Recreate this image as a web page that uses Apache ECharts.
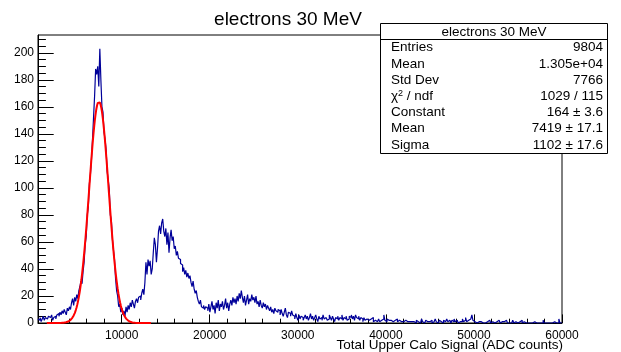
<!DOCTYPE html>
<html>
<head>
<meta charset="utf-8">
<script src="https://cdn.jsdelivr.net/npm/echarts@6/dist/echarts.min.js"></script>
<style>
  html, body { margin: 0; padding: 0; background: #fff; }
  #chart { width: 621px; height: 352px; }
</style>
</head>
<body>
<div id="chart"></div>
<script>
// Histogram: upper calorimeter signal for 30 MeV electrons, 500 bins
const histTitle = 'electrons 30 MeV';
const xAxisTitle = 'Total Upper Calo Signal (ADC counts)';
const xMin = 500;
const xMax = 60000;

const binCounts = [
  3,2,4,1,3,5,2,4,3,2,5,4,3,6,2,4,5,3,6,7,5,8,6,9,7,
  10,8,6,11,9,12,10,15,18,13,19,16,21,18,24,27,31,29,38,45,58,64,80,86,103,
  110,121,136,152,168,188,184,190,175,203,180,160,156,141,136,128,112,106,99,80,76,62,54,47,33,
  24,20,12,14,8,11,6,9,5,12,8,13,10,15,12,17,14,11,16,18,15,19,20,17,22,
  25,21,30,45,36,47,42,46,36,40,52,63,58,45,55,68,72,66,74,77,68,64,70,58,67,
  52,63,69,61,64,55,57,50,53,48,47,44,43,38,41,36,39,34,37,33,35,30,27,31,25,
  22,24,19,16,14,17,12,11,13,10,12,11,9,14,8,12,16,10,13,7,15,11,17,9,14,
  12,16,10,13,18,11,15,9,14,17,13,19,15,18,14,20,16,22,18,24,19,15,20,13,17,
  21,14,18,16,21,17,19,15,20,14,16,12,17,13,11,15,12,14,10,13,11,9,12,8,10,
  7,11,9,8,10,9,6,10,7,5,8,11,6,4,8,7,5,9,6,5,3,7,4,2,6,
  3,5,4,2,4,6,3,5,2,4,7,3,5,2,4,6,3,1,5,3,4,2,6,3,4,
  5,2,3,6,4,2,5,3,1,4,3,5,2,4,3,6,2,4,3,5,2,3,5,4,6,
  3,5,2,6,4,3,5,2,4,3,1,4,2,3,4,2,1,3,2,4,1,2,3,1,2,
  3,1,2,1,3,6,2,1,3,2,1,2,3,1,2,2,1,3,1,2,1,1,2,1,1,
  2,1,1,0,1,2,1,0,1,1,0,2,1,1,0,1,3,1,0,1,2,1,0,1,1,
  2,0,1,1,3,1,0,1,2,1,1,0,2,1,1,3,1,2,1,0,2,1,3,1,2,
  1,0,1,2,1,3,1,2,4,1,2,1,3,2,6,2,1,1,0,1,1,0,1,2,0,
  1,0,1,1,0,2,1,0,1,0,0,1,1,0,2,1,0,1,0,1,0,2,1,0,0,
  1,0,1,2,0,1,0,0,1,1,0,2,0,1,0,0,1,0,1,0,0,0,0,1,0,
  0,0,0,0,0,0,0,2,0,0,0,0,0,0,0,0,0,1,0,0,0,0,3,0,0
];

// Gaussian fit result
const fitConstant = 164;
const fitMean = 7419;
const fitSigma = 1102;
const fitRange = [1500, 13400];

// Axis ticks
const xTickLabels = [10000, 20000, 30000, 40000, 50000, 60000];
const yTickLabels = [0, 20, 40, 60, 80, 100, 120, 140, 160, 180, 200];
const xMinorStep = 2000;
const yMinorStep = 5;

// Statistics box
const statsTitle = 'electrons 30 MeV';
const statsNames = ['Entries', 'Mean', 'Std Dev', '{c|χ}{s|2}{c| / ndf}', 'Constant', 'Mean', 'Sigma'];
const statsValues = ['9804', '1.305e+04', '7766', '1029 / 115', '164 ± 3.6', '7419 ± 17.1', '1102 ± 17.6'];

const FONT = '"Liberation Sans", Arial, Helvetica, sans-serif';

const binWidth = (xMax - xMin) / binCounts.length;
const histPoints = binCounts.map((c, i) => [xMin + i * binWidth, c]);
histPoints.push([xMax, binCounts[binCounts.length - 1]]);

const fitPoints = [];
const nFit = 300;
for (let k = 0; k <= nFit; k++) {
  const x = fitRange[0] + (fitRange[1] - fitRange[0]) * k / nFit;
  const z = (x - fitMean) / fitSigma;
  fitPoints.push([x, fitConstant * Math.exp(-0.5 * z * z)]);
}

const yMax = 1.05 * Math.max(...binCounts);

const xMinorTicks = [];
for (let v = Math.ceil(xMin / xMinorStep) * xMinorStep; v <= xMax; v += xMinorStep) xMinorTicks.push(v);
const yMinorTicks = [];
for (let v = 0; v <= yMax; v += yMinorStep) yMinorTicks.push(v);

const grid = { left: 38, right: 59, top: 35, bottom: 29 };

const statsBox = { x: 380.5, y: 23.5, w: 227, h: 130, rowH: 16.2, titleH: 16 };
const statsGraphics = [
  { type: 'rect', z: 100, shape: { x: statsBox.x, y: statsBox.y, width: statsBox.w, height: statsBox.h },
    style: { fill: '#fff', stroke: '#000', lineWidth: 1 } },
  { type: 'line', z: 101, shape: { x1: statsBox.x, y1: statsBox.y + statsBox.titleH, x2: statsBox.x + statsBox.w, y2: statsBox.y + statsBox.titleH },
    style: { stroke: '#000', lineWidth: 1 } },
  { type: 'text', z: 101, x: statsBox.x + statsBox.w / 2, y: statsBox.y + statsBox.titleH / 2 + 1,
    style: { text: statsTitle, font: '13.5px ' + FONT, fill: '#000', textAlign: 'center', textVerticalAlign: 'middle' } }
];
statsNames.forEach((name, k) => {
  const cy = statsBox.y + statsBox.titleH + statsBox.rowH * (k + 0.5);
  statsGraphics.push({
    type: 'text', z: 101, x: 391, y: cy,
    style: {
      text: name, font: '13.5px ' + FONT, fill: '#000', textAlign: 'left', textVerticalAlign: 'middle',
      rich: {
        c: { fontSize: 13.5, fontFamily: FONT, fill: '#000', color: '#000' },
        s: { fontSize: 9, fontFamily: FONT, fill: '#000', color: '#000', verticalAlign: 'top' }
      }
    }
  });
  statsGraphics.push({
    type: 'text', z: 101, x: 603, y: cy,
    style: { text: statsValues[k], font: '13.5px ' + FONT, fill: '#000', textAlign: 'right', textVerticalAlign: 'middle' }
  });
});

const plainNumber = v => String(v);

const chart = echarts.init(document.getElementById('chart'), null, { renderer: 'canvas' });
chart.setOption({
  animation: false,
  backgroundColor: '#fff',
  grid: { left: grid.left, right: grid.right, top: grid.top, bottom: grid.bottom, show: true, borderColor: '#000', borderWidth: 1, containLabel: false },
  xAxis: [
    {
      type: 'value', min: xMin, max: xMax, position: 'bottom',
      axisLine: { show: true, lineStyle: { color: '#000', width: 1 } },
      axisTick: { show: true, inside: true, length: 8.6, customValues: xTickLabels, lineStyle: { color: '#000' } },
      axisLabel: { show: true, customValues: xTickLabels, formatter: plainNumber, color: '#000', fontSize: 12, fontFamily: FONT, margin: 7 },
      splitLine: { show: false }
    },
    {
      type: 'value', min: xMin, max: xMax, position: 'bottom', offset: 0,
      axisLine: { show: false },
      axisTick: { show: true, inside: true, length: 4.3, customValues: xMinorTicks, lineStyle: { color: '#000' } },
      axisLabel: { show: false },
      splitLine: { show: false }
    }
  ],
  yAxis: [
    {
      type: 'value', min: 0, max: yMax, position: 'left',
      axisLine: { show: true, lineStyle: { color: '#000', width: 1 } },
      axisTick: { show: true, inside: true, length: 15.7, customValues: yTickLabels, lineStyle: { color: '#000' } },
      axisLabel: { show: true, customValues: yTickLabels, formatter: plainNumber, color: '#000', fontSize: 12, fontFamily: FONT, margin: 4 },
      splitLine: { show: false }
    },
    {
      type: 'value', min: 0, max: yMax, position: 'left', offset: 0,
      axisLine: { show: false },
      axisTick: { show: true, inside: true, length: 7.9, customValues: yMinorTicks, lineStyle: { color: '#000' } },
      axisLabel: { show: false },
      splitLine: { show: false }
    }
  ],
  graphic: [
    { type: 'text', x: 288, y: 20, style: { text: histTitle, font: '19px ' + FONT, fill: '#000', textAlign: 'center', textVerticalAlign: 'middle' } },
    { type: 'text', x: 563, y: 345, style: { text: xAxisTitle, font: '13.5px ' + FONT, fill: '#000', textAlign: 'right', textVerticalAlign: 'middle' } }
  ].concat(statsGraphics),
  series: [
    {
      name: 'hist', type: 'line', step: 'end', data: histPoints, showSymbol: false, symbol: 'none',
      lineStyle: { color: '#000099', width: 1.2 }, itemStyle: { color: '#000099' }, z: 3, silent: true
    },
    {
      name: 'gaus', type: 'line', data: fitPoints, showSymbol: false, symbol: 'none', smooth: false,
      lineStyle: { color: '#ff0000', width: 2 }, itemStyle: { color: '#ff0000' }, z: 4, silent: true
    }
  ]
});
</script>
</body>
</html>
